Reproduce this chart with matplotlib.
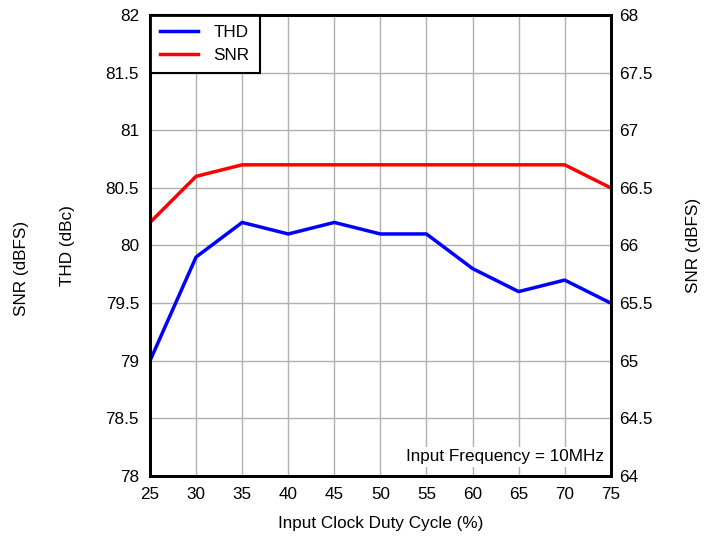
import matplotlib
matplotlib.use('Agg')
import matplotlib.pyplot as plt

plt.rcParams['font.family'] = ['Liberation Sans', 'DejaVu Sans']

# Data
duty = [25, 30, 35, 40, 45, 50, 55, 60, 65, 70, 75]
thd = [79.0, 79.9, 80.2, 80.1, 80.2, 80.1, 80.1, 79.8, 79.6, 79.7, 79.5]
snr = [66.2, 66.6, 66.7, 66.7, 66.7, 66.7, 66.7, 66.7, 66.7, 66.7, 66.5]
xticks = [25, 30, 35, 40, 45, 50, 55, 60, 65, 70, 75]
lticks = [78, 78.5, 79, 79.5, 80, 80.5, 81, 81.5, 82]
rticks = [64, 64.5, 65, 65.5, 66, 66.5, 67, 67.5, 68]

fs = 12.3
fig = plt.figure(figsize=(7.16, 5.37), dpi=100)
ax = fig.add_axes([0.2095, 0.1136, 0.6435, 0.8585])
ax2 = ax.twinx()

l1, = ax.plot(duty, thd, color='#0000ff', linewidth=2.5, label='THD')
l2, = ax2.plot(duty, snr, color='#ff0000', linewidth=2.5, label='SNR')

ax.set_xlim(25, 75)
ax.set_ylim(78, 82)
ax2.set_ylim(64, 68)
ax.set_xticks(xticks)
ax.set_yticks(lticks)
ax2.set_yticks(rticks)
ax.set_yticklabels(['%g' % v for v in lticks])
ax2.set_yticklabels(['%g' % v for v in rticks])
ax.grid(True, color='#b0b0b0', linewidth=1)
ax.tick_params(length=0, labelsize=fs, pad=8)
ax2.tick_params(length=0, labelsize=fs, pad=6)
for a in (ax, ax2):
    for s in a.spines.values():
        s.set_linewidth(2)

ax.set_xlabel('Input Clock Duty Cycle (%)', fontsize=fs, labelpad=10)
ax.set_ylabel('THD (dBc)', fontsize=fs, labelpad=22)
ax2.set_ylabel('SNR (dBFS)', fontsize=fs, labelpad=24)
fig.text(0.03, 0.5, 'SNR (dBFS)', rotation=90, fontsize=fs, va='center', ha='center')

leg = ax.legend(handles=[l1, l2], loc='upper left', fontsize=fs, fancybox=False,
                borderaxespad=0, framealpha=1, edgecolor='black', handlelength=2.2,
                borderpad=0.6, labelspacing=0.45, handletextpad=0.9)
leg.get_frame().set_linewidth(1.5)
leg.set_zorder(10)

ax2.text(0.985, 0.025, 'Input Frequency = 10MHz', transform=ax2.transAxes, fontsize=fs,
         ha='right', va='bottom', bbox=dict(facecolor='white', edgecolor='none', pad=2))

fig.savefig('out.png', dpi=100)
